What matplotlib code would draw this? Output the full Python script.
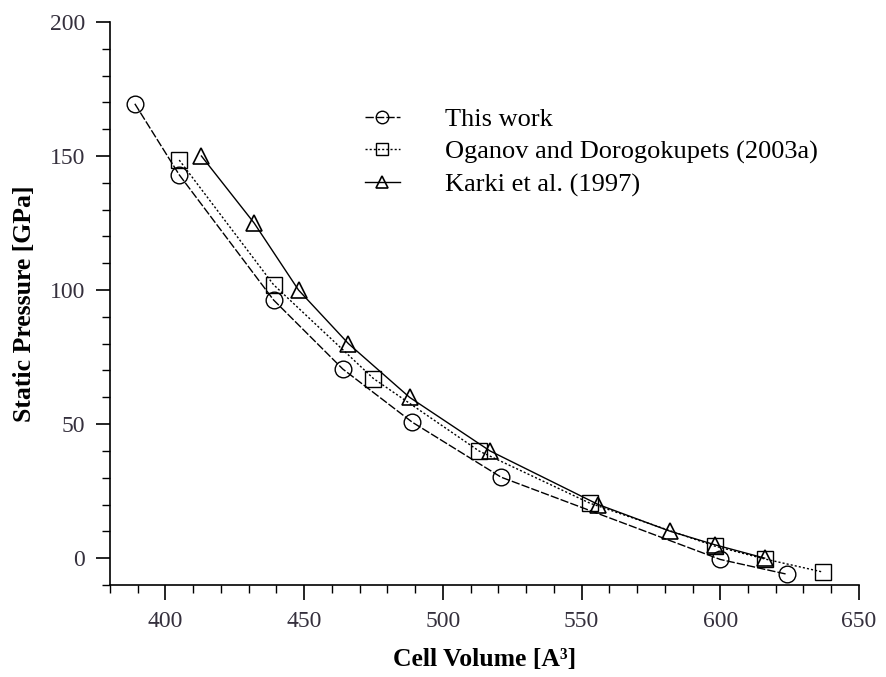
import numpy as np
from matplotlib import pyplot as plt
from matplotlib.ticker import MultipleLocator

plt.rcParams['font.family'] = ['Liberation Serif', 'DejaVu Serif']

# This work
this_vol = [389, 405, 439, 464, 489, 521, 600, 624]
this_p = [169.5, 143, 96.3, 70.5, 50.7, 30.2, -0.5, -6]

# Oganov and Dorogokupets (2003a)
og_vol = [405, 439, 475, 513, 553, 598, 616, 637]
og_p = [148.5, 102, 67, 40, 20.5, 4.5, -0.3, -5.2]

# Karki et al. (1997)
karki_vol = [413, 432, 448, 466, 488, 517, 556, 582, 598, 616]
karki_p = [150, 125, 100, 80, 60, 40, 20, 10, 5, 0]

fig = plt.figure(figsize=(8.86, 6.77), dpi=100)
ax = fig.add_axes([0.124, 0.136, 0.8455, 0.8315])

ms = 12
ax.plot(this_vol, this_p, color='black', lw=1.0, linestyle=(0, (6, 1.5)),
        marker='o', ms=ms, mfc='none', mec='black', mew=1.0, label='This work')
ax.plot(og_vol, og_p, color='black', lw=1.0, linestyle=(0, (1.5, 1.5)),
        marker='s', ms=ms, mfc='none', mec='black', mew=1.0,
        label='Oganov and Dorogokupets (2003a)')
ax.plot(karki_vol, karki_p, color='black', lw=1.0, linestyle='-',
        marker='^', ms=ms, mfc='none', mec='black', mew=1.2,
        label='Karki et al. (1997)')

ax.set_xlim(380, 650)
ax.set_ylim(-10, 200)
ax.xaxis.set_major_locator(MultipleLocator(50))
ax.xaxis.set_minor_locator(MultipleLocator(10))
ax.yaxis.set_minor_locator(MultipleLocator(10))
ax.set_yticks([0, 50, 100, 150, 200])

for side in ['top', 'right']:
    ax.spines[side].set_visible(False)
for side in ['left', 'bottom']:
    ax.spines[side].set_linewidth(1.2)

tick_color = '#35303d'
ax.tick_params(axis='x', which='major', direction='out', length=11, width=1.2,
               labelsize=17, pad=8, labelcolor=tick_color)
ax.tick_params(axis='x', which='minor', direction='out', length=6, width=1.0)
ax.tick_params(axis='y', which='major', direction='out', length=10, width=1.2,
               labelsize=17, pad=8, labelcolor=tick_color)
ax.tick_params(axis='y', which='minor', direction='out', length=6, width=1.0)

ax.set_xlabel('Cell Volume [A\u00b3]', fontsize=18.5, fontweight='bold', labelpad=11)
ax.set_ylabel('Static Pressure [GPa]', fontsize=18.5, fontweight='bold', labelpad=10)

ax.legend(loc='upper left', bbox_to_anchor=(0.34, 0.848), frameon=False,
          fontsize=19, handlelength=1.35, handletextpad=1.7, labelspacing=0.34,
          borderpad=0, borderaxespad=0, markerscale=0.75)

plt.savefig('out.png', dpi=100)
